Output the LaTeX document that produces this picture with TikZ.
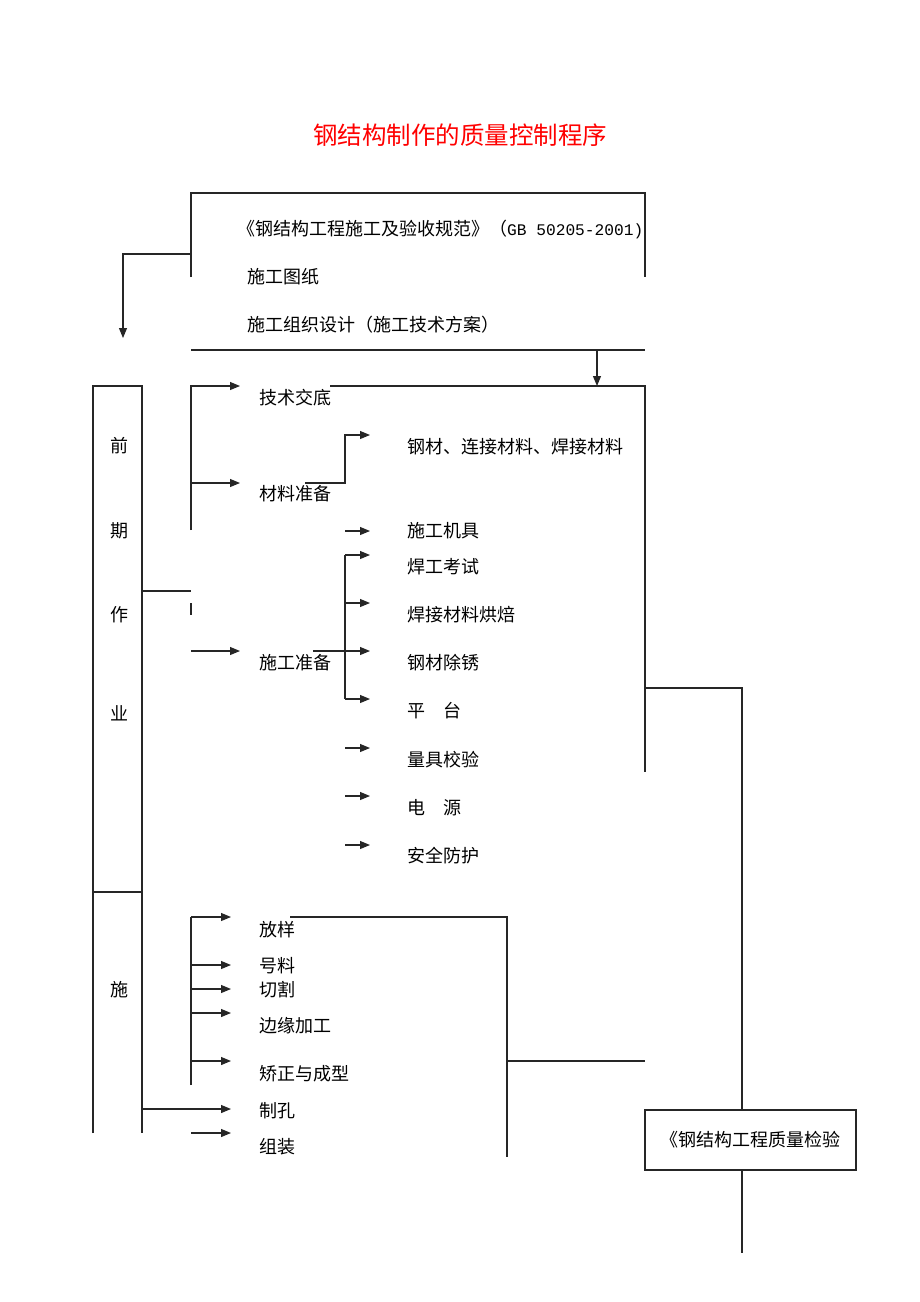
\documentclass[tikz,border=0pt]{standalone}
\usepackage{fontspec}
\newfontfamily\cjk{Noto Sans CJK SC}
\newfontfamily\mono{Liberation Mono}
\usetikzlibrary{arrows.meta}

\tikzset{
  lbl/.style={font=\cjk\fontsize{18}{20}\selectfont, anchor=west, inner sep=0pt},
  col/.style={font=\cjk\fontsize{18}{20}\selectfont, inner sep=0pt},
  ln/.style={line width=1.1pt, black!85},
  arr/.style={ln, -{Triangle[length=10pt,width=8pt]}},
}

\begin{document}
\begin{tikzpicture}[x=1pt,y=-1pt]

  \path[fill=white] (0,0) rectangle (920,1302);

  \node[font=\cjk\fontsize{24.5}{26}\selectfont, text=red] (title) at (460,135) {钢结构制作的质量控制程序};

  % basis documents
  \node[lbl] (gb) at (237,229) {《钢结构工程施工及验收规范》（{\mono\fontsize{16.2}{18}\selectfont GB 50205-2001)}};
  \node[lbl] (tz) at (247,277) {施工图纸};
  \node[lbl] (zzsj) at (247,325) {施工组织设计（施工技术方案）};
  \draw[ln] (191,277) -- (191,193) -- (645,193) -- (645,277);
  \draw[ln] (191,350) -- (645,350);
  \draw[arr] (191,254) -| (123,338);
  \draw[arr] (597,350) -- (597,386);

  % left column
  \draw[ln] (93,1133) -- (93,386) -- (142,386) -- (142,1133);
  \draw[ln] (93,892) -- (142,892);
  \node[col] (qian) at (119,446) {前};
  \node[col] (qi) at (119,531) {期};
  \node[col] (zuo) at (119,615) {作};
  \node[col] (ye) at (119,713) {业};
  \node[col] (shi) at (119,990) {施};

  % preparation
  \node[lbl] (jsjd) at (259,398) {技术交底};
  \node[lbl] (clzb) at (259,494) {材料准备};
  \node[lbl] (sgzb) at (259,663) {施工准备};
  \node[lbl] (gc) at (407,447) {钢材、连接材料、焊接材料};
  \node[lbl] (jj) at (407,531) {施工机具};
  \node[lbl] (hgks) at (407,567) {焊工考试};
  \node[lbl] (hb) at (407,615) {焊接材料烘焙};
  \node[lbl] (cx) at (407,663) {钢材除锈};
  \node[lbl] (pt) at (407,711) {平\hspace{1em}台};
  \node[lbl] (ljjy) at (407,760) {量具校验};
  \node[lbl] (dy) at (407,808) {电\hspace{1em}源};
  \node[lbl] (aqfh) at (407,856) {安全防护};

  \draw[arr, shorten >=19pt] (191,530) |- (jsjd.west |- 0,386);
  \draw[arr, shorten >=19pt] (191,483) -- (clzb.west |- 0,483);
  \draw[ln] (142,591) -- (191,591);
  \draw[ln] (191,603) -- (191,615);
  \draw[arr, shorten >=19pt] (191,651) -- (sgzb.west |- 0,651);

  \draw[arr, shorten >=37pt] (305,483) -- (345,483) |- (gc.west |- 0,435);
  \draw[arr, shorten >=37pt] (345,531) -- (jj.west |- 0,531);
  \draw[ln] (345,555) -- (345,699);
  \draw[arr, shorten >=37pt] (313,651) -- (cx.west |- 0,651);
  \foreach \n/\y in {hgks/555, hb/603, pt/699, ljjy/748, dy/796, aqfh/845}
    \draw[arr, shorten >=37pt] (345,\y) -- (\n.west |- 0,\y);

  \draw[ln] (330,386) -- (645,386) -- (645,772);

  % fabrication
  \node[lbl] (fy) at (259,930) {放样};
  \node[lbl] (hl) at (259,966) {号料};
  \node[lbl] (qg) at (259,990) {切割};
  \node[lbl] (byjg) at (259,1026) {边缘加工};
  \node[lbl] (jz) at (259,1074) {矫正与成型};
  \node[lbl] (zk) at (259,1111) {制孔};
  \node[lbl] (zz) at (259,1147) {组装};

  \draw[ln] (191,1085) -- (191,917);
  \foreach \n/\y in {fy/917, hl/965, qg/989, byjg/1013, jz/1061, zz/1133}
    \draw[arr, shorten >=28pt] (191,\y) -- (\n.west |- 0,\y);
  \draw[arr, shorten >=28pt] (142,1109) -- (zk.west |- 0,1109);
  \draw[ln] (290,917) -- (507,917) -- (507,1157);
  \draw[ln] (507,1061) -- (645,1061);

  % inspection
  \node[ln, draw, minimum width=211pt, minimum height=60pt, font=\cjk\fontsize{18}{20}\selectfont, text=black] (jy) at (750.5,1140) {《钢结构工程质量检验};
  \draw[ln] (645,688) -| (jy.north -| 742,0);
  \draw[ln] (jy.south -| 742,0) -- (742,1253);

\end{tikzpicture}
\end{document}
